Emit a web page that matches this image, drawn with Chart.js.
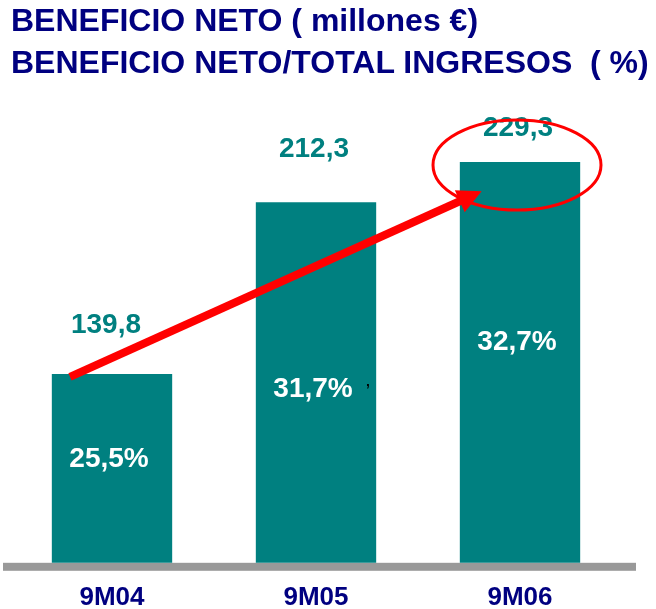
<!DOCTYPE html>
<html>
<head>
<meta charset="utf-8">
<script src="https://cdn.jsdelivr.net/npm/chart.js@4/dist/chart.umd.min.js"></script>
<style>
  html, body { margin: 0; padding: 0; background: #fff; }
  #wrap { position: relative; width: 656px; height: 609px; }
  .t { position: absolute; left: 11px; font: bold 32px "Liberation Sans", Arial, sans-serif; color: #000080; white-space: nowrap; }
</style>
</head>
<body>
<div id="wrap">
  <canvas id="Chart" width="656" height="609" style="position:absolute;left:0;top:0"></canvas>
  <div class="t" style="top:2px">BENEFICIO NETO ( millones €)</div>
  <div class="t" style="top:44px">BENEFICIO NETO/TOTAL INGRESOS&nbsp; ( %)</div>
</div>
<script>
// datos
const periodos = ["9M04", "9M05", "9M06"];
const beneficio = [139.8, 212.3, 229.3];
const margen = ["25,5%", "31,7%", "32,7%"];

const teal = "#008080";
const navy = "#000080";

// etiquetas, flecha y elipse
const extras = {
  id: 'extras',
  beforeDatasetsDraw(chart) {
    const ctx = chart.ctx;
    const y = chart.scales.y.bottom;
    ctx.save();
    ctx.fillStyle = "#999999";
    ctx.fillRect(3, y, 633, 8);
    ctx.restore();
  },
  afterDatasetsDraw(chart) {
    const ctx = chart.ctx;
    const bars = chart.getDatasetMeta(0).data;
    const topOff = [49, 53, 34];
    const dx = [-6, -2, -2];
    const inY = [459, 389, 342];
    ctx.save();
    ctx.textAlign = "center";
    ctx.textBaseline = "middle";
    ctx.font = "bold 28px 'Liberation Sans', Arial, sans-serif";
    bars.forEach((b, i) => {
      ctx.fillStyle = teal;
      ctx.fillText(String(beneficio[i]).replace(".", ","), b.x + dx[i], b.y - topOff[i]);
      ctx.fillStyle = "#ffffff";
      ctx.fillText(margen[i], b.x - 3, inY[i]);
    });
    // marca pequeña
    ctx.fillStyle = "#000";
    ctx.font = "bold 14px 'Liberation Sans', Arial, sans-serif";
    ctx.fillText("’", bars[1].x + 52, 390);

    // flecha
    const x0 = bars[0].x - 42, y0 = bars[0].y + 3;
    const x1 = bars[2].x - 42, y1 = bars[2].y + 31;
    const ang = Math.atan2(y1 - y0, x1 - x0);
    ctx.strokeStyle = "#ff0000";
    ctx.fillStyle = "#ff0000";
    ctx.lineWidth = 8;
    ctx.beginPath();
    ctx.moveTo(x0, y0);
    ctx.lineTo(x1 - 14 * Math.cos(ang), y1 - 14 * Math.sin(ang));
    ctx.stroke();
    ctx.beginPath();
    ctx.moveTo(x1 + 4 * Math.cos(ang), y1 + 4 * Math.sin(ang));
    ctx.lineTo(x1 - 20 * Math.cos(ang) - 12 * Math.sin(ang), y1 - 20 * Math.sin(ang) + 12 * Math.cos(ang));
    ctx.lineTo(x1 - 20 * Math.cos(ang) + 12 * Math.sin(ang), y1 - 20 * Math.sin(ang) - 12 * Math.cos(ang));
    ctx.closePath();
    ctx.fill();

    // elipse
    ctx.lineWidth = 3;
    ctx.beginPath();
    ctx.ellipse(bars[2].x - 3, bars[2].y + 3, 84, 45, 0, 0, Math.PI * 2);
    ctx.stroke();
    ctx.restore();
  }
};

let lineCtx = document.getElementById("Chart");
let lineConfig = {
  type: 'bar',
  data: {
    labels: periodos,
    datasets: [{
      label: 'Beneficio neto',
      data: beneficio,
      backgroundColor: teal,
      borderWidth: 0,
      categoryPercentage: 1,
      barPercentage: 0.59
    }]
  },
  options: {
    responsive: false,
    animation: false,
    layout: { padding: { left: 10, right: 34, top: 113, bottom: -23 } },
    plugins: { legend: { display: false }, tooltip: { enabled: false } },
    scales: {
      x: {
        grid: { display: false, drawTicks: false },
        border: { display: false },
        ticks: { color: navy, padding: 19, font: { family: "'Liberation Sans', Arial, sans-serif", size: 26, weight: 'bold' } }
      },
      y: {
        display: false,
        min: 60,
        max: 250
      }
    }
  },
  plugins: [extras]
};
let lineChart = new Chart(lineCtx, lineConfig);
</script>
</body>
</html>
